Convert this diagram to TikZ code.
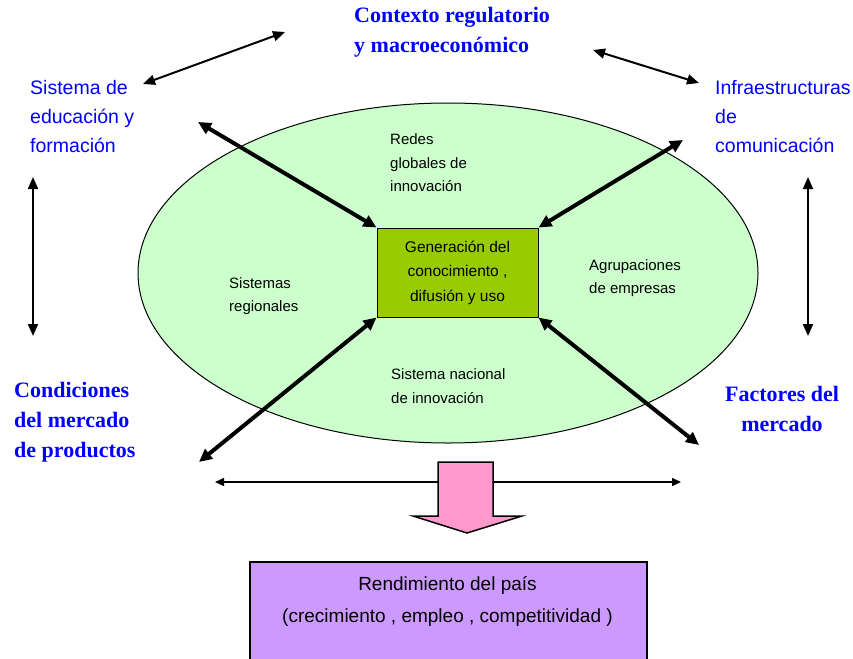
\documentclass[tikz,border=0pt]{standalone}
\usepackage{fontspec}
\setmainfont{Liberation Sans}
\newfontfamily\slabfont{Liberation Serif}
\usetikzlibrary{arrows.meta,shapes.geometric}

\definecolor{ellgreen}{HTML}{CCFFCC}
\definecolor{gengreen}{HTML}{99CC00}
\definecolor{perfviolet}{HTML}{CC99FF}
\definecolor{flowpink}{HTML}{FF99CC}
\definecolor{lblblue}{HTML}{0000FF}

\tikzset{
  sanslbl/.style={text=lblblue, align=left, inner sep=0pt,
    font=\fontsize{19.5}{29}\selectfont},
  seriflbl/.style={text=lblblue, inner sep=0pt,
    font=\slabfont\bfseries\fontsize{22}{30}\selectfont},
  innerlbl/.style={align=left, inner sep=0pt,
    font=\fontsize{15}{23.5}\selectfont},
  thicklink/.style={line width=4pt,
    {Triangle[length=13pt,width=12pt]}-{Triangle[length=13pt,width=12pt]}},
  thinlink/.style={line width=2pt,
    {Triangle[length=12pt,width=10pt]}-{Triangle[length=12pt,width=10pt]}},
  flatlink/.style={line width=1.5pt,
    {Triangle[length=9pt,width=8pt]}-{Triangle[length=9pt,width=8pt]}},
}

\begin{document}
\begin{tikzpicture}[x=1pt,y=-1pt]
\useasboundingbox (0,0) rectangle (853,658);

% innovation ecosystem
\node[ellipse, draw, line width=1pt, fill=ellgreen,
      minimum width=620pt, minimum height=340pt, inner sep=0pt] (eco) at (448,273) {};

% core: knowledge generation
\node[draw, line width=1pt, fill=gengreen, minimum width=161pt, minimum height=89pt,
      align=center, inner sep=0pt, font=\fontsize{15.5}{24.5}\selectfont]
  (gen) at (457.5,272.5) {Generación del\\conocimiento ,\\difusión y uso};

% sub-systems inside the ecosystem
\node[innerlbl, anchor=west] (redes) at (390,163) {Redes\\globales de\\innovación};
\node[innerlbl, anchor=west] (regio) at (229,296) {Sistemas\\regionales};
\node[innerlbl, anchor=west] (agrup) at (589,278) {Agrupaciones\\de empresas};
\node[innerlbl, anchor=west] (nacio) at (391,386) {Sistema nacional\\de innovación};

% surrounding framework conditions
\node[seriflbl, align=left, anchor=west] (ctx) at (354,32) {Contexto regulatorio\\y macroeconómico};
\node[sanslbl, anchor=west] (edu) at (30,117) {Sistema de\\educación y\\formación};
\node[sanslbl, anchor=west] (infra) at (715,117) {Infraestructuras\\de\\comunicación};
\node[seriflbl, align=left, anchor=west] (cond) at (14,422) {Condiciones\\del mercado\\de productos};
\node[seriflbl, align=center, anchor=center] (fact) at (782,409) {Factores del\\mercado};

% free ends of the links
\coordinate (tl) at (198,122);
\coordinate (tr) at (683,140);
\coordinate (bl) at (199,462);
\coordinate (br) at (699,445);
\coordinate (ctxL) at (285,32);
\coordinate (eduR) at (143,84);
\coordinate (ctxR) at (593,50);
\coordinate (infL) at (699,83);
\coordinate (eduB) at (33,177);
\coordinate (condT) at (33,336);
\coordinate (infB) at (808,177);
\coordinate (factT) at (808,336);
\coordinate (mktL) at (215,482);
\coordinate (mktR) at (681,482);

% links to the core
\draw[thicklink] (tl) -- (gen.north west);
\draw[thicklink] (tr) -- (gen.north east);
\draw[thicklink] (bl) -- (gen.south west);
\draw[thicklink] (br) -- (gen.south east);

% links between framework conditions
\draw[thinlink] (eduR) -- (ctxL);
\draw[thinlink] (ctxR) -- (infL);
\draw[thinlink] (eduB) -- (condT);
\draw[thinlink] (infB) -- (factT);
\draw[flatlink] (mktL) -- (mktR);

% outcome flow
\draw[line width=1.5pt, fill=flowpink, line join=miter]
  (438,462) -- (493,462) -- (493,516) -- (522,516) -- (467,533)
  -- (413,516) -- (438,516) -- cycle;

% country performance
\node[draw, line width=1.5pt, fill=perfviolet, anchor=north west,
      minimum width=397pt, minimum height=110pt, inner sep=0pt] (perf) at (249,561) {};
\node[align=center, inner sep=0pt, font=\fontsize{19}{32}\selectfont]
  (perftxt) at (447.5,601) {Rendimiento del país\\(crecimiento , empleo , competitividad )};
\end{tikzpicture}
\end{document}
